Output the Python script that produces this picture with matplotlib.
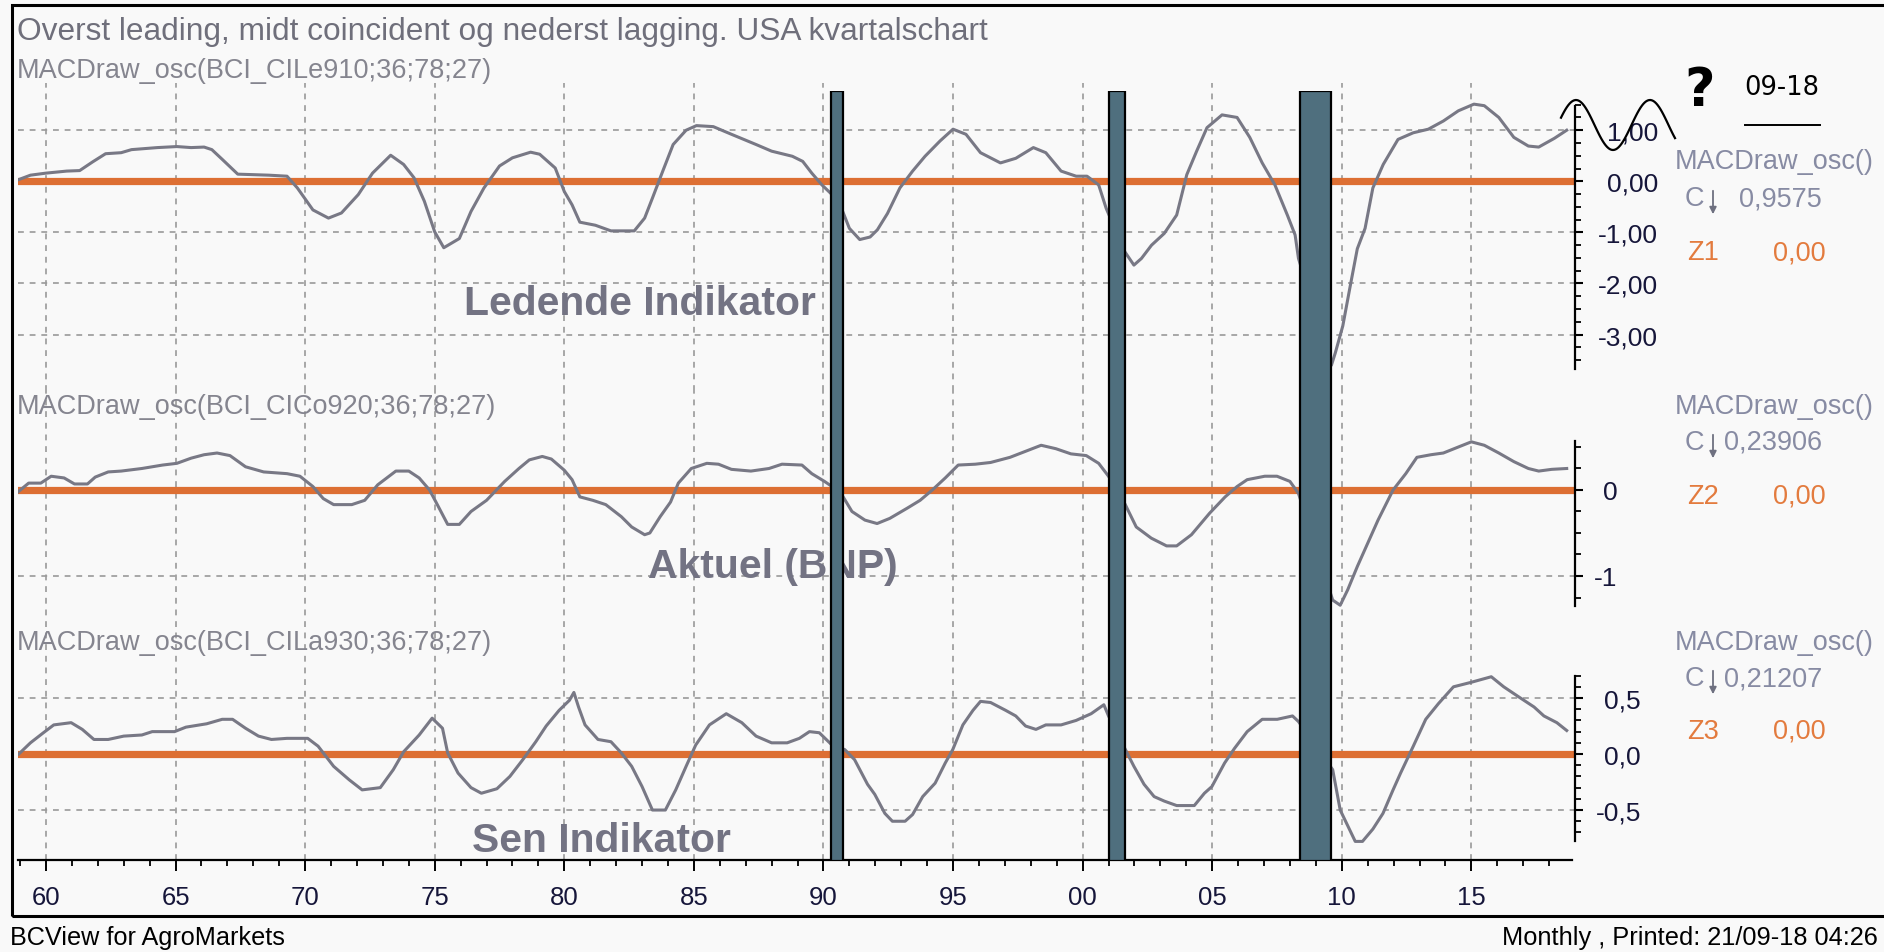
import numpy as np
import matplotlib
matplotlib.use("Agg")
from matplotlib import pyplot as plt
from matplotlib.lines import Line2D
from matplotlib.patches import Rectangle, FancyArrowPatch
from matplotlib.ticker import FixedLocator

W, H = 1884, 953

# ---- data: (year - 1900, oscillator value) ----
lead = [(58.93, 0.03), (59.4, 0.12), (60.0, 0.16), (60.8, 0.2), (61.3, 0.21), (61.8, 0.38),
        (62.3, 0.54), (62.9, 0.56), (63.3, 0.62), (64.3, 0.66), (65.05, 0.68), (65.6, 0.66),
        (66.1, 0.67), (66.4, 0.62), (66.8, 0.43), (67.4, 0.14), (68.0, 0.13), (68.6, 0.12),
        (69.3, 0.1), (69.7, -0.13), (70.3, -0.56), (70.9, -0.72), (71.4, -0.62), (72.05, -0.26),
        (72.6, 0.16), (73.3, 0.51), (73.8, 0.33), (74.2, 0.07), (74.6, -0.39), (75.0, -0.99),
        (75.35, -1.3), (75.95, -1.12), (76.4, -0.59), (76.9, -0.13), (77.5, 0.3), (78.0, 0.46),
        (78.7, 0.57), (79.05, 0.53), (79.65, 0.26), (80.0, -0.2), (80.3, -0.46), (80.6, -0.8),
        (81.2, -0.86), (81.8, -0.97), (82.7, -0.97), (83.1, -0.72), (83.4, -0.33), (83.8, 0.2),
        (84.2, 0.72), (84.7, 1.0), (85.1, 1.09), (85.75, 1.07), (86.45, 0.92), (87.4, 0.72),
        (88.0, 0.59), (88.8, 0.49), (89.2, 0.39), (89.55, 0.16), (89.94, -0.07), (90.33, -0.26),
        (90.72, -0.56), (91.0, -0.92), (91.4, -1.14), (91.8, -1.09), (92.08, -0.95), (92.47, -0.63),
        (92.95, -0.13), (93.44, 0.2), (93.92, 0.49), (94.5, 0.79), (95.0, 1.02), (95.5, 0.92),
        (96.06, 0.56), (96.83, 0.36), (97.42, 0.45), (98.1, 0.66), (98.58, 0.56), (99.17, 0.2),
        (99.75, 0.1), (100.17, 0.1), (100.62, -0.07), (100.91, -0.53), (101.63, -1.38),
        (101.98, -1.64), (102.27, -1.51), (102.66, -1.25), (103.15, -1.02), (103.63, -0.66),
        (104.02, 0.13), (104.4, 0.59), (104.8, 1.05), (105.38, 1.3), (105.96, 1.25), (106.45, 0.86),
        (106.93, 0.36), (107.42, -0.07), (107.9, -0.66), (108.2, -1.05), (108.33, -1.51),
        (109.6, -3.6), (109.75, -3.36), (110.04, -2.83), (110.33, -2.04), (110.6, -1.32),
        (110.9, -0.92), (111.2, -0.13), (111.6, 0.33), (112.17, 0.82), (112.76, 0.95), (113.34, 1.02),
        (113.92, 1.18), (114.5, 1.38), (115.1, 1.51), (115.5, 1.48), (116.06, 1.25), (116.64, 0.86),
        (117.2, 0.69), (117.6, 0.67), (118.2, 0.84), (118.68, 1.0)]

coin = [(58.93, -0.02), (59.33, 0.08), (59.8, 0.08), (60.2, 0.16), (60.7, 0.14), (61.1, 0.07),
        (61.6, 0.07), (61.9, 0.15), (62.4, 0.21), (62.9, 0.22), (63.7, 0.25), (64.5, 0.29),
        (65.05, 0.31), (65.6, 0.37), (66.1, 0.41), (66.6, 0.43), (67.1, 0.4), (67.7, 0.27),
        (68.4, 0.21), (69.3, 0.19), (69.8, 0.16), (70.3, 0.04), (70.7, -0.1), (71.1, -0.17),
        (71.8, -0.17), (72.3, -0.12), (72.8, 0.06), (73.5, 0.22), (74.0, 0.22), (74.4, 0.14),
        (74.8, 0.0), (75.1, -0.17), (75.5, -0.4), (75.95, -0.4), (76.4, -0.25), (77.0, -0.12),
        (77.7, 0.1), (78.25, 0.25), (78.65, 0.35), (79.15, 0.39), (79.5, 0.36), (80.0, 0.23),
        (80.3, 0.12), (80.6, -0.08), (81.1, -0.12), (81.6, -0.17), (82.2, -0.31), (82.6, -0.43),
        (83.1, -0.52), (83.3, -0.5), (83.7, -0.31), (84.1, -0.14), (84.4, 0.08), (84.9, 0.25),
        (85.5, 0.31), (85.95, 0.3), (86.45, 0.24), (87.2, 0.22), (87.9, 0.25), (88.4, 0.3),
        (89.17, 0.29), (89.55, 0.19), (90.04, 0.1), (90.33, 0.04), (90.72, -0.06), (91.1, -0.25),
        (91.6, -0.35), (92.07, -0.39), (92.56, -0.33), (93.24, -0.21), (93.73, -0.12), (94.2, 0.0),
        (94.7, 0.14), (95.2, 0.29), (95.86, 0.3), (96.45, 0.32), (97.2, 0.38), (97.8, 0.45),
        (98.4, 0.52), (98.97, 0.48), (99.55, 0.42), (100.14, 0.4), (100.62, 0.31), (101.0, 0.16),
        (101.63, -0.16), (102.07, -0.43), (102.65, -0.56), (103.24, -0.65), (103.63, -0.65),
        (104.2, -0.52), (104.9, -0.27), (105.5, -0.08), (105.96, 0.04), (106.35, 0.12),
        (107.03, 0.16), (107.5, 0.16), (108.0, 0.1), (108.33, -0.04), (109.65, -1.28),
        (109.94, -1.34), (110.23, -1.16), (110.6, -0.89), (111.0, -0.62), (111.4, -0.35),
        (111.98, 0.0), (112.47, 0.19), (112.9, 0.38), (113.44, 0.41), (113.92, 0.43), (114.5, 0.5),
        (115.0, 0.56), (115.5, 0.52), (116.06, 0.43), (116.64, 0.33), (117.2, 0.25), (117.6, 0.22),
        (118.1, 0.24), (118.68, 0.25)]

lag = [(58.95, 0.0), (59.4, 0.1), (59.9, 0.19), (60.3, 0.26), (60.97, 0.28), (61.4, 0.22),
       (61.85, 0.13), (62.4, 0.13), (63.0, 0.16), (63.7, 0.17), (64.1, 0.2), (64.96, 0.2),
       (65.4, 0.24), (66.2, 0.27), (66.8, 0.31), (67.2, 0.31), (67.7, 0.23), (68.2, 0.16),
       (68.7, 0.13), (69.3, 0.14), (70.1, 0.14), (70.5, 0.07), (71.1, -0.11), (71.7, -0.23),
       (72.2, -0.32), (72.9, -0.3), (73.4, -0.14), (73.8, 0.02), (74.4, 0.17), (74.9, 0.32),
       (75.3, 0.23), (75.5, 0.01), (75.9, -0.17), (76.4, -0.3), (76.8, -0.35), (77.4, -0.31),
       (77.9, -0.2), (78.4, -0.05), (78.9, 0.11), (79.3, 0.25), (79.8, 0.39), (80.2, 0.48),
       (80.37, 0.55), (80.55, 0.42), (80.8, 0.26), (81.3, 0.13), (81.8, 0.11), (82.2, 0.01),
       (82.6, -0.11), (83.0, -0.29), (83.4, -0.5), (83.9, -0.5), (84.3, -0.32), (84.7, -0.11),
       (85.07, 0.08), (85.6, 0.26), (86.25, 0.36), (86.85, 0.28), (87.4, 0.16), (88.0, 0.1),
       (88.6, 0.1), (89.07, 0.14), (89.46, 0.2), (89.84, 0.19), (90.33, 0.08), (90.82, 0.04),
       (91.2, -0.05), (91.7, -0.27), (91.98, -0.36), (92.37, -0.53), (92.66, -0.6), (93.15, -0.6),
       (93.44, -0.54), (93.83, -0.38), (94.31, -0.26), (94.7, -0.08), (94.99, 0.04), (95.38, 0.26),
       (95.77, 0.39), (96.06, 0.47), (96.45, 0.46), (97.03, 0.39), (97.42, 0.34), (97.8, 0.25),
       (98.2, 0.22), (98.58, 0.26), (99.17, 0.26), (99.75, 0.3), (100.33, 0.36), (100.82, 0.44),
       (101.0, 0.34), (101.65, 0.04), (101.98, -0.11), (102.37, -0.27), (102.76, -0.38),
       (103.15, -0.42), (103.63, -0.46), (104.31, -0.46), (104.7, -0.35), (104.99, -0.29),
       (105.48, -0.08), (105.86, 0.05), (106.35, 0.2), (106.93, 0.31), (107.51, 0.31), (108.1, 0.34),
       (108.33, 0.29), (109.65, -0.14), (109.94, -0.5), (110.23, -0.64), (110.52, -0.78),
       (110.8, -0.78), (111.2, -0.67), (111.59, -0.53), (111.98, -0.32), (112.27, -0.17),
       (112.76, 0.07), (113.24, 0.31), (113.73, 0.45), (114.31, 0.6), (114.99, 0.64), (115.77, 0.69),
       (116.25, 0.6), (116.83, 0.51), (117.42, 0.42), (117.8, 0.34), (118.3, 0.28), (118.68, 0.21)]

recessions = [(90.30, 90.76), (101.02, 101.65), (108.40, 109.58)]

x_major = [60, 65, 70, 75, 80, 85, 90, 95, 100, 105, 110, 115]
x_labels = ["60", "65", "70", "75", "80", "85", "90", "95", "00", "05", "10", "15"]

lead_ticks = [1, 0, -1, -2, -3]
lead_labels = ["1,00", "0,00", "-1,00", "-2,00", "-3,00"]
coin_ticks = [0, -1]
coin_labels = ["0", "-1"]
lag_ticks = [0.5, 0, -0.5]
lag_labels = ["0,5", "0,0", "-0,5"]

XMIN, XMAX = 58.92, 119.0
BG = "#f9f9f9"
GRAY = "#787885"
ORANGE = "#dd6f33"
BAR = "#4f6f7e"
DARK = "#16163a"
LEG = "#878ba3"

plt.rcParams["font.family"] = ["Liberation Sans", "DejaVu Sans"]


def box(x0, y0, x1, y1):
    return [x0 / W, 1 - y1 / H, (x1 - x0) / W, (y1 - y0) / H]


def fx(x):
    return x / W


def fy(y):
    return 1 - y / H


fig = plt.figure(figsize=(W / 100, H / 100), dpi=100, facecolor=BG)


def panel(rect, data, ylim, ticks, labels, bounds, minor, pad):
    ax = fig.add_axes(box(*rect))
    ax.patch.set_visible(False)
    ax.set_xlim(XMIN, XMAX)
    ax.set_ylim(*ylim)
    for s in ["top", "left", "bottom"]:
        ax.spines[s].set_visible(False)
    ax.spines["right"].set_bounds(*bounds)
    ax.spines["right"].set_linewidth(1.6)
    ax.yaxis.tick_right()
    ax.set_yticks(ticks, labels, ha="right")
    ax.yaxis.set_minor_locator(FixedLocator(minor))
    ax.tick_params(axis="y", which="major", direction="out", length=6, width=1.5,
                   pad=pad, labelsize=19, labelcolor=DARK)
    ax.tick_params(axis="y", which="minor", direction="out", length=4, width=1.3)
    ax.set_xticks(x_major)
    ax.tick_params(axis="x", length=0, labelbottom=False)
    ax.grid(True, which="major", color="#9a9a9a", linestyle=(0, (3.5, 3.5)), linewidth=1.2)
    ax.axhline(0, color=ORANGE, lw=5.2, zorder=2)
    xs, ys = zip(*data)
    ax.plot(xs, ys, color=GRAY, lw=2.2, zorder=3)
    return ax


ax1 = panel((18, 84, 1575, 392), lead, (-4.104, 1.924), lead_ticks, lead_labels,
            (1.47, -3.67), np.arange(-3.5, 1.51, 0.25), 54)
ax2 = panel((18, 392, 1575, 628), coin, (-1.593, 1.151), coin_ticks, coin_labels,
            (0.57, -1.35), np.arange(-1.25, 0.51, 0.25), 24.5)
ax3 = panel((18, 628, 1575, 861), lag, (-0.946, 1.134), lag_ticks, lag_labels,
            (0.7, -0.78), np.arange(-0.7, 0.71, 0.1), 41.5)

# bottom time axis
ax3.spines["bottom"].set_visible(True)
ax3.spines["bottom"].set_linewidth(1.6)
ax3.spines["bottom"].set_bounds(XMIN, 118.88)
ax3.set_xticks(x_major, x_labels)
ax3.xaxis.set_minor_locator(FixedLocator(range(59, 119)))
ax3.tick_params(axis="x", which="major", length=8, width=1.4, pad=10,
                labelbottom=True, labelsize=18.5, labelcolor=DARK)
ax3.tick_params(axis="x", which="minor", length=4, width=1.3)

# recession bars on top of all panels
axb = fig.add_axes(box(18, 92, 1575, 862), zorder=10)
axb.set_xlim(XMIN, XMAX)
axb.set_ylim(0, 1)
axb.axis("off")
for a, b in recessions:
    axb.axvspan(a, b, facecolor=BAR, edgecolor="black", lw=1.6)

# titles
fig.text(fx(17), fy(32), "Overst leading, midt coincident og nederst lagging. USA kvartalschart",
         fontsize=22.8, color="#6f6f7b", va="center")
for y, s in [(71, "MACDraw_osc(BCI_CILe910;36;78;27)"),
             (407, "MACDraw_osc(BCI_CICo920;36;78;27)"),
             (643, "MACDraw_osc(BCI_CILa930;36;78;27)")]:
    fig.text(fx(17), fy(y), s, fontsize=19.5, color="#85858f", va="center")

for x, y, s in [(640, 304, "Ledende Indikator"), (773, 567, "Aktuel (BNP)"),
                (601, 841, "Sen Indikator")]:
    fig.text(fx(x), fy(y), s, fontsize=29.4, fontweight="bold", color="#737383",
             ha="center", va="center", zorder=3)

# right-hand legend
legend_rows = [(162, 199, 253, "0,9575", 1739, "Z1"),
               (407, 443, 497, "0,23906", 1724, "Z2"),
               (643, 679, 732, "0,21207", 1724, "Z3")]
for y0, y1, y2, val, vx, z in legend_rows:
    fig.text(fx(1675), fy(y0), "MACDraw_osc()", fontsize=19.5, color=LEG, va="center")
    fig.text(fx(1685), fy(y1), "C", fontsize=19.5, color=LEG, va="center")
    fig.add_artist(FancyArrowPatch((fx(1713), fy(y1 - 10)), (fx(1713), fy(y1 + 19)),
                                   arrowstyle="-|>", mutation_scale=10, lw=1.3,
                                   color="#6e7080", transform=fig.transFigure))
    fig.text(fx(vx), fy(y1), val, fontsize=19.5, color=LEG, va="center")
    fig.text(fx(1687), fy(y2), z, fontsize=19.5, color="#e37b3e", va="center")
    fig.text(fx(1773), fy(y2), "0,00", fontsize=19.5, color="#e37b3e", va="center")

# hand-drawn annotation top right
sx = np.linspace(1561, 1675, 80)
sy = 126 - 25 * np.cos(2 * np.pi * (sx - 1576) / 74)
fig.add_artist(Line2D(fx(sx), fy(sy), color="black", lw=1.6, transform=fig.transFigure, zorder=20))
fig.text(fx(1700), fy(91), "?", fontsize=38, fontweight="bold", family="DejaVu Sans",
         ha="center", va="center", color="black")
fig.text(fx(1782), fy(88), "09-18", fontsize=18.5, family="DejaVu Sans", ha="center",
         va="center", color="black")
fig.add_artist(Line2D([fx(1745), fx(1820)], [fy(126), fy(126)], color="black", lw=1.4,
                      transform=fig.transFigure))

# outer frame and footer
fig.add_artist(Rectangle((fx(12), fy(917)), fx(1884), fy(6) - fy(917), fill=False,
                         edgecolor="black", lw=2.2, transform=fig.transFigure))
fig.text(fx(10), fy(938), "BCView for AgroMarkets", fontsize=18.2, color="black", va="center")
fig.text(fx(1878), fy(938), "Monthly , Printed: 21/09-18 04:26", fontsize=18.3, color="black",
         va="center", ha="right")

fig.savefig("out.png", dpi=100, facecolor=BG)
